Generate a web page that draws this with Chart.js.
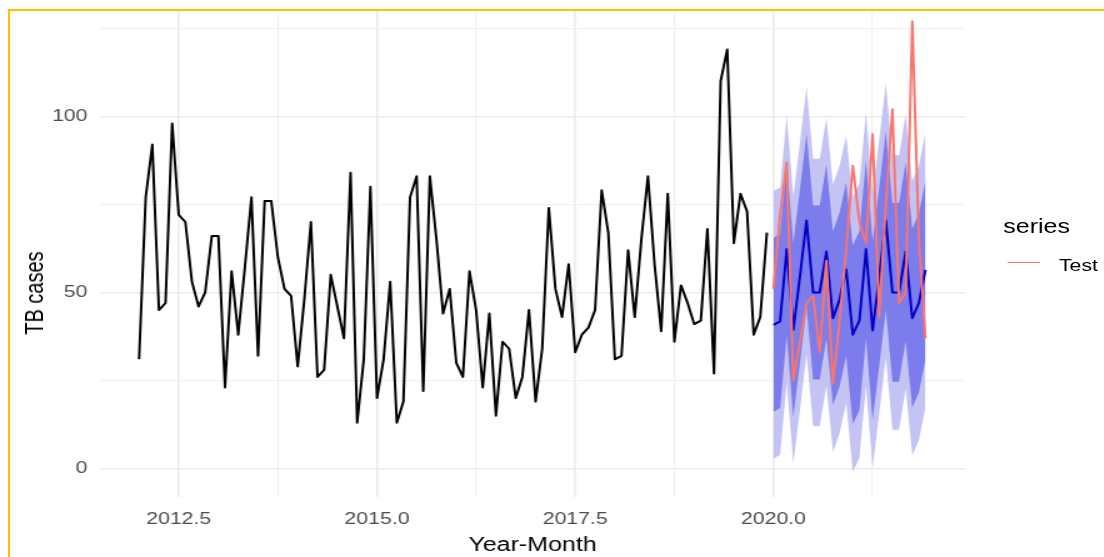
<!DOCTYPE html>
<html>
<head>
<meta charset="utf-8">
<script src="https://cdn.jsdelivr.net/npm/chart.js@4/dist/chart.umd.min.js"></script>
<style>
  html, body { margin: 0; padding: 0; background: #fff; width: 1104px; height: 557px; overflow: hidden; }
  #stage { position: absolute; left: 0; top: 0; width: 884px; height: 557px; transform: scaleX(1.25); transform-origin: 0 0; }
  #c { position: absolute; left: 0; top: 0; }
  .txt { position: absolute; font-family: "Liberation Sans", Arial, sans-serif; color: #000; white-space: nowrap; }
  #ytitle { left: 27.2px; top: 293px; font-size: 20px; line-height: 20px; transform: translate(-50%, -50%) rotate(-90deg); }
  #legTitle { left: 802.6px; top: 215.8px; font-size: 20px; line-height: 20px; }
  #legLabel { left: 847.2px; top: 256.6px; font-size: 17px; line-height: 17px; }
  #legKey { position: absolute; left: 806px; top: 261.5px; width: 26px; height: 1.8px; background: #F8766D; }
  #frame { position: absolute; left: 8px; top: 9px; width: 1200px; height: 700px; border-top: 2px solid #FFC000; border-left: 2px solid #FFC000; pointer-events: none; }
</style>
</head>
<body>
<div id="stage">
  <canvas id="c" width="884" height="557"></canvas>
  <div class="txt" id="ytitle">TB cases</div>
  <div class="txt" id="legTitle">series</div>
  <div id="legKey"></div>
  <div class="txt" id="legLabel">Test</div>
</div>
<div id="frame"></div>
<script>
// Monthly TB cases, Jan 2012 - Dec 2019
const historyStart = 2012;
const historyCases = [
  31, 77, 92, 45, 47, 98, 72, 70, 53, 46, 50, 66,
  66, 23, 56, 38, 57, 77, 32, 76, 76, 60, 51, 49,
  29, 48, 70, 26, 28, 55, 46, 37, 84, 13, 31, 80,
  20, 31, 53, 13, 19, 77, 83, 22, 83, 65, 44, 51,
  30, 26, 56, 45, 23, 44, 15, 36, 34, 20, 26, 45,
  19, 34, 74, 51, 43, 58, 33, 38, 40, 45, 79, 67,
  31, 32, 62, 43, 65, 83, 58, 39, 78, 36, 52, 47,
  41, 42, 68, 27, 110, 119, 64, 78, 73, 38, 43, 67
];

// Forecast horizon Jan 2020 - Dec 2021
const forecastStart = 2020;
const forecastMean = [
  40.8, 41.8, 62.3, 39.4, 54.5, 70.4, 50, 50, 61.6, 42.7, 48, 56.6,
  38, 42, 62.3, 39.2, 54.5, 70.4, 50, 50, 61.6, 42.7, 47, 56.4
];
const lower80 = [
  16.1, 17.1, 37.6, 14.7, 29.8, 45.7, 25.3, 25.3, 36.9, 18, 23.3, 31.9,
  12.6, 16.6, 36.9, 13.8, 29.1, 45, 24.6, 24.6, 36.2, 17.3, 21.6, 31
];
const upper80 = [
  65.5, 66.5, 87, 64.1, 79.2, 95.1, 74.7, 74.7, 86.3, 67.4, 72.7, 81.3,
  63.4, 67.4, 87.7, 64.6, 79.9, 95.8, 75.4, 75.4, 87, 68.1, 72.4, 81.8
];
const lower95 = [
  2.8, 3.8, 24.3, 1.4, 16.5, 32.4, 12, 12, 23.6, 4.7, 10, 18.6,
  -1, 3, 23.3, 0.2, 15.5, 31.4, 11, 11, 22.6, 3.7, 8, 17.4
];
const upper95 = [
  78.8, 79.8, 100.3, 77.4, 92.5, 108.4, 88, 88, 99.6, 80.7, 86, 94.6,
  77, 81, 101.3, 78.2, 93.5, 109.4, 89, 89, 100.6, 81.7, 86, 95.4
];
// Held-out observations over the forecast horizon
const testCases = [
  51, 72, 87, 25, 36, 47, 49, 33, 59, 24, 42, 62,
  86, 70, 64, 95, 43, 75, 102, 47, 50, 127, 65, 37
];

// Axis ticks
const xTicks = [2012.5, 2013.75, 2015, 2016.25, 2017.5, 2018.75, 2020, 2021.25];
const xLabelled = [2012.5, 2015, 2017.5, 2020];
const yTicks = [0, 25, 50, 75, 100, 125];
const yLabelled = [0, 50, 100];

const toPoints = (start, values) => values.map((v, i) => ({ x: start + i / 12, y: v }));

const FONT = '"Liberation Sans", Arial, sans-serif';
const isMajorX = v => xLabelled.some(t => Math.abs(t - v) < 1e-6);
const isMajorY = v => yLabelled.includes(v);

const band = (values, color, fill, order) => ({
  data: toPoints(forecastStart, values),
  borderWidth: 0,
  pointRadius: 0,
  backgroundColor: color,
  fill: fill,
  order: order
});

// keep the plotting panel exactly where the layout puts it
const noOverhang = s => { s.paddingTop = 0; s.paddingBottom = 0; s.paddingLeft = 0; s.paddingRight = 0; };

new Chart(document.getElementById('c'), {
  type: 'line',
  data: {
    datasets: [
      band(upper95, 'rgb(196,196,244)', '+1', 6),
      band(lower95, 'rgb(196,196,244)', false, 6),
      band(upper80, 'rgb(124,124,236)', '+1', 5),
      band(lower80, 'rgb(124,124,236)', false, 5),
      {
        label: 'TB cases',
        data: toPoints(historyStart, historyCases),
        borderColor: '#000000',
        borderWidth: 2,
        pointRadius: 0,
        fill: false,
        borderJoinStyle: 'round',
        order: 3
      },
      {
        label: 'Forecast',
        data: toPoints(forecastStart, forecastMean),
        borderColor: '#0000C8',
        borderWidth: 2,
        pointRadius: 0,
        fill: false,
        borderJoinStyle: 'round',
        order: 2
      },
      {
        label: 'Test',
        data: toPoints(forecastStart, testCases),
        borderColor: '#F8766D',
        borderWidth: 2,
        pointRadius: 0,
        fill: false,
        borderJoinStyle: 'round',
        order: 1
      }
    ]
  },
  options: {
    responsive: false,
    animation: false,
    layout: { padding: { left: 0, top: 9, right: 112, bottom: 0 } },
    plugins: {
      legend: { display: false },
      tooltip: { enabled: false }
    },
    scales: {
      x: {
        type: 'linear',
        min: 2011.507,
        max: 2022.415,
        afterBuildTicks: s => { s.ticks = xTicks.map(v => ({ value: v })); },
        afterFit: s => { s.height = 60; noOverhang(s); },
        border: { display: false },
        grid: {
          drawTicks: false,
          color: c => (c.tick && isMajorX(c.tick.value)) ? '#EBEBEB' : '#F1F1F1',
          lineWidth: c => (c.tick && isMajorX(c.tick.value)) ? 1.6 : 1.2
        },
        ticks: {
          padding: 12,
          color: '#4D4D4D',
          font: { family: FONT, size: 17 },
          maxRotation: 0,
          autoSkip: false,
          callback: v => isMajorX(v) ? v.toFixed(1) : ''
        },
        title: {
          display: true,
          text: 'Year-Month',
          color: '#000000',
          font: { family: FONT, size: 20 },
          padding: { top: 0, bottom: 0 }
        }
      },
      y: {
        type: 'linear',
        min: -8.1,
        max: 130.5,
        afterBuildTicks: s => { s.ticks = yTicks.map(v => ({ value: v })); },
        afterFit: s => { s.width = 80; noOverhang(s); },
        border: { display: false },
        grid: {
          drawTicks: false,
          color: c => (c.tick && isMajorY(c.tick.value)) ? '#EBEBEB' : '#F1F1F1',
          lineWidth: c => (c.tick && isMajorY(c.tick.value)) ? 1.6 : 1.2
        },
        ticks: {
          padding: 10,
          color: '#4D4D4D',
          font: { family: FONT, size: 17 },
          autoSkip: false,
          callback: v => isMajorY(v) ? String(v) : ''
        }
      }
    }
  }
});
</script>
</body>
</html>
